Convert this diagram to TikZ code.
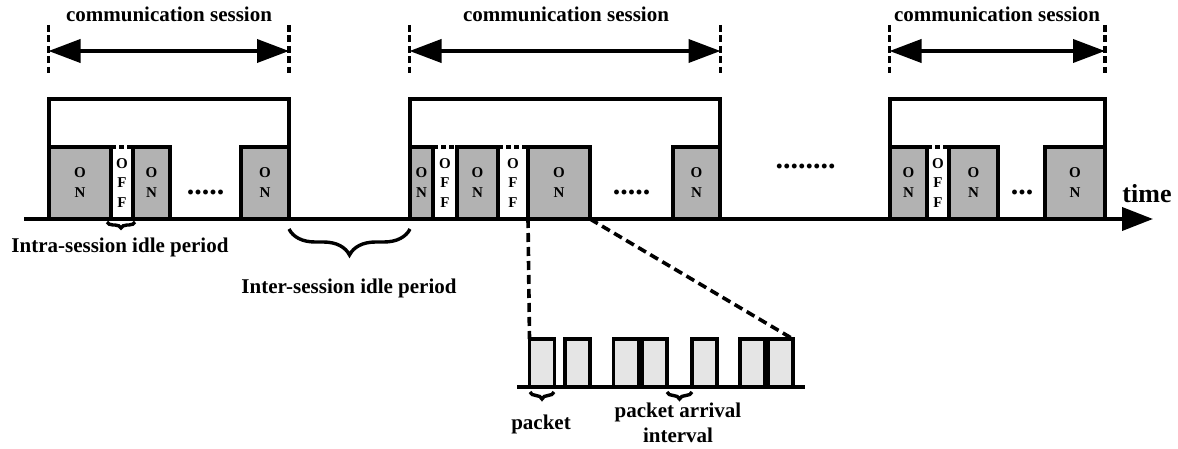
\documentclass[tikz,border=0pt]{standalone}
\usepackage{fontspec}
\setmainfont{Liberation Serif}
\usetikzlibrary{arrows.meta,decorations.pathreplacing}
\definecolor{ongray}{gray}{0.70}
\definecolor{pkgray}{gray}{0.90}
\begin{document}
\begin{tikzpicture}[x=1pt,y=-1pt,
  onbox/.style={draw, fill=ongray, line width=3.8pt, inner sep=0pt, outer sep=0pt, minimum height=72pt, align=center, font=\bfseries\fontsize{15}{20}\selectfont},
  offtxt/.style={inner sep=0pt, outer sep=0pt, align=center, font=\bfseries\fontsize{15}{19.5}\selectfont},
  sess/.style={draw, line width=3.8pt, inner sep=0pt, outer sep=0pt, minimum height=120pt},
  bnd/.style={line width=3.8pt, dash pattern=on 7pt off 3.5pt},
  offdash/.style={line width=3.8pt, dash pattern=on 5pt off 3pt},
  zoomdash/.style={line width=3.6pt, dash pattern=on 9pt off 5pt},
  dimarrow/.style={line width=3.8pt, {Triangle[length=32pt,width=23pt]}-{Triangle[length=32pt,width=23pt]}},
  lbl/.style={font=\bfseries\fontsize{21}{25}\selectfont, inner sep=0pt, anchor=base},
  dotstxt/.style={font=\bfseries\fontsize{30}{30}\selectfont, inner sep=0pt, anchor=base},
  pkt/.style={draw, fill=pkgray, line width=3.4pt, inner sep=0pt, outer sep=0pt, minimum width=25pt, minimum height=48pt},
  brc/.style={line width=3.4pt, decorate, decoration={brace, mirror, amplitude=#1}},
]
\useasboundingbox (0,0) rectangle (1178,449);

% session frames
\node[sess, minimum width=240pt] (s1) at (169,159) {};
\node[sess, minimum width=310pt] (s2) at (565,159) {};
\node[sess, minimum width=215pt] (s3) at (997.5,159) {};

% session 1
\node[onbox, minimum width=62pt] (a1) at (80,183) {O\\N};
\node[offtxt] (f1) at (122,183) {O\\F\\F};
\node[onbox, minimum width=37pt] (a2) at (151.5,183) {O\\N};
\node[onbox, minimum width=48pt] (a3) at (265,183) {O\\N};
\node[dotstxt] (d1) at (205.5,194.5) {.....};
\draw[offdash] (a1.north east) -- (a2.north west);

% session 2
\node[onbox, minimum width=23pt] (b1) at (421.5,183) {O\\N};
\node[offtxt] (g1) at (445,183) {O\\F\\F};
\node[onbox, minimum width=41pt] (b2) at (477.5,183) {O\\N};
\node[offtxt] (g2) at (513,183) {O\\F\\F};
\node[onbox, minimum width=62pt] (b3) at (559,183) {O\\N};
\node[onbox, minimum width=47pt] (b4) at (696.5,183) {O\\N};
\node[dotstxt] (d2) at (631.5,194.5) {.....};
\draw[offdash] (b1.north east) -- (b2.north west);
\draw[offdash] (b2.north east) -- (b3.north west);

% middle dots
\node[dotstxt] (dm) at (805.5,168.5) {........};

% session 3
\node[onbox, minimum width=37pt] (c1) at (908.5,183) {O\\N};
\node[offtxt] (h1) at (938,183) {O\\F\\F};
\node[onbox, minimum width=49pt] (c2) at (973.5,183) {O\\N};
\node[onbox, minimum width=60pt] (c3) at (1075,183) {O\\N};
\node[dotstxt] (d3) at (1022,194.5) {...};
\draw[offdash] (c1.north east) -- (c2.north west);

% session extents
\coordinate (u1a) at (48.5,25);  \coordinate (u1b) at (48.5,73);
\coordinate (v1a) at (289,25);   \coordinate (v1b) at (289,73);
\coordinate (u1m) at (48.5,51);  \coordinate (v1m) at (289,51);
\coordinate (u2a) at (409.5,25); \coordinate (u2b) at (409.5,73);
\coordinate (v2a) at (720.5,25); \coordinate (v2b) at (720.5,73);
\coordinate (u2m) at (409.5,51); \coordinate (v2m) at (720.5,51);
\coordinate (u3a) at (889.5,25); \coordinate (u3b) at (889.5,73);
\coordinate (v3a) at (1105,25);  \coordinate (v3b) at (1105,73);
\coordinate (u3m) at (889.5,51); \coordinate (v3m) at (1105,51);
\draw[bnd] (u1a) -- (u1b);  \draw[bnd] (v1a) -- (v1b);
\draw[bnd] (u2a) -- (u2b);  \draw[bnd] (v2a) -- (v2b);
\draw[bnd] (u3a) -- (u3b);  \draw[bnd] (v3a) -- (v3b);
\draw[dimarrow] (u1m) -- (v1m);
\draw[dimarrow] (u2m) -- (v2m);
\draw[dimarrow] (u3m) -- (v3m);
\node[lbl] (cs1) at (169,22) {communication session};
\node[lbl] (cs2) at (566,22) {communication session};
\node[lbl] (cs3) at (997,22) {communication session};

% time axis
\coordinate (t0) at (24,219);
\coordinate (t1) at (1153,219);
\draw[line width=3.8pt, -{Triangle[length=31pt,width=23pt]}] (t0) -- (t1);
\node[lbl, font=\bfseries\fontsize{26}{30}\selectfont] (time) at (1147,203) {time};

% idle braces
\coordinate (ib0) at (107,222); \coordinate (ib1) at (135,222);
\draw[brc=6pt] (ib0) -- (ib1);
\node[lbl] (intra) at (120,253) {Intra-session idle period};
\coordinate (eb0) at (289,229); \coordinate (eb1) at (410,229);
\draw[brc=26pt] (eb0) -- (eb1);
\node[lbl] (inter) at (349,293) {Inter-session idle period};

% packet detail
\coordinate (pa0) at (517,387);
\coordinate (pa1) at (805,387);
\node[pkt] (p1) at (542,363) {};
\node[pkt] (p2) at (577.5,363) {};
\node[pkt] (p3) at (626,363) {};
\node[pkt] (p4) at (654.5,363) {};
\node[pkt] (p5) at (704.5,363) {};
\node[pkt] (p6) at (752.5,363) {};
\node[pkt] (p7) at (780.5,363) {};
\draw[line width=3.4pt] (pa0) -- (pa1);
\draw[zoomdash] (b3.south west) -- (p1.north west);
\draw[zoomdash] (b3.south east) -- (p7.north east);

\coordinate (pb0) at (530,392); \coordinate (pb1) at (554,392);
\draw[brc=7pt] (pb0) -- (pb1);
\node[lbl] (pktl) at (541,429) {packet};
\coordinate (qb0) at (667,392); \coordinate (qb1) at (692,392);
\draw[brc=7pt] (qb0) -- (qb1);
\node[lbl] (arr1) at (678,417) {packet arrival};
\node[lbl] (arr2) at (678,442) {interval};
\end{tikzpicture}
\end{document}
